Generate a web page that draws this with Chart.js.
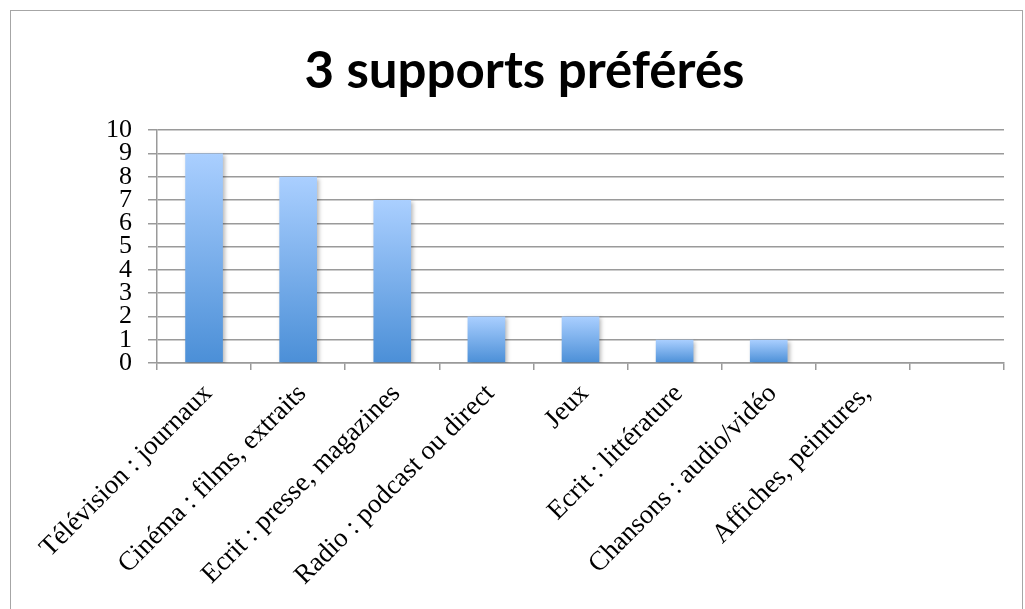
<!DOCTYPE html>
<html>
<head>
<meta charset="utf-8">
<script src="https://cdn.jsdelivr.net/npm/chart.js@4"></script>
<style>
  html, body { margin: 0; padding: 0; background: #fff; }
  #wrap { position: absolute; left: 0; top: 0; width: 1025px; height: 609px; }
  #frame { position: absolute; left: 10px; top: 10px; width: 1013px; height: 620px; border: 1.5px solid #a6a6a6; box-sizing: border-box; }
  canvas { position: absolute; left: 0; top: 0; }
</style>
</head>
<body>
<div id="wrap">
  <div id="frame"></div>
  <canvas id="c" width="1025" height="609"></canvas>
</div>
<script>
const titleText = "3 supports préférés";
const categories = [
  "Télévision : journaux",
  "Cinéma : films, extraits",
  "Ecrit : presse, magazines",
  "Radio : podcast ou direct",
  "Jeux",
  "Ecrit : littérature",
  "Chansons : audio/vidéo",
  "Affiches, peintures,",
  ""
];
const values = [9, 8, 7, 2, 2, 1, 1, 0, 0];
const yTicks = [0, 1, 2, 3, 4, 5, 6, 7, 8, 9, 10];

const gridColor = "#9a9a9a";

const shadowPlugin = {
  id: "barShadow",
  beforeDatasetsDraw(chart) {
    const c = chart.ctx;
    c.save();
    c.shadowColor = "rgba(0,0,0,0.28)";
    c.shadowBlur = 4;
    c.shadowOffsetX = 2;
    c.shadowOffsetY = 2;
  },
  afterDatasetsDraw(chart) {
    chart.ctx.restore();
  }
};

new Chart(document.getElementById("c"), {
  type: "bar",
  data: {
    labels: categories,
    datasets: [{
      data: values,
      backgroundColor(ctx) {
        const chart = ctx.chart;
        const ys = chart.scales.y;
        if (!ys || ctx.raw == null) return "#7fb0ea";
        const top = ys.getPixelForValue(ctx.raw);
        const base = ys.getPixelForValue(0);
        if (!isFinite(top) || !isFinite(base) || top === base) return "#7fb0ea";
        const g = chart.ctx.createLinearGradient(0, top, 0, base);
        g.addColorStop(0, "#aacfff");
        g.addColorStop(1, "#4b8fd7");
        return g;
      },
      borderWidth: 0,
      categoryPercentage: 0.8,
      barPercentage: 0.5
    }]
  },
  options: {
    responsive: false,
    animation: false,
    devicePixelRatio: 1,
    layout: { padding: { left: 45, right: 21, top: 0, bottom: 0 } },
    plugins: {
      legend: { display: false },
      tooltip: { enabled: false },
      title: {
        display: true,
        text: titleText,
        color: "#000",
        font: { family: "Lato", weight: "bold", size: 51 },
        padding: { top: 41, bottom: 28 }
      }
    },
    scales: {
      x: {
        grid: {
          offset: true,
          drawOnChartArea: false,
          drawTicks: true,
          tickLength: 7,
          color: gridColor,
          lineWidth: 1.5
        },
        border: { color: gridColor, width: 1.5 },
        ticks: {
          color: "#000",
          font: { family: "Liberation Serif", size: 27 },
          maxRotation: 45,
          minRotation: 45,
          autoSkip: false,
          padding: 8,
          labelOffset: 4
        },
        afterFit(scale) { scale.height = 246; }
      },
      y: {
        min: 0,
        max: 10,
        afterBuildTicks(scale) { scale.ticks = yTicks.map(v => ({ value: v })); },
        grid: {
          color: gridColor,
          lineWidth: 1.5,
          drawTicks: true,
          tickLength: 9
        },
        border: { color: gridColor, width: 1.5 },
        ticks: {
          color: "#000",
          font: { family: "Liberation Serif", size: 26, lineHeight: 1 },
          padding: 16,
          autoSkip: false,
          stepSize: 1
        },
        afterFit(scale) { scale.width = 112; }
      }
    }
  },
  plugins: [shadowPlugin]
});
</script>
</body>
</html>
